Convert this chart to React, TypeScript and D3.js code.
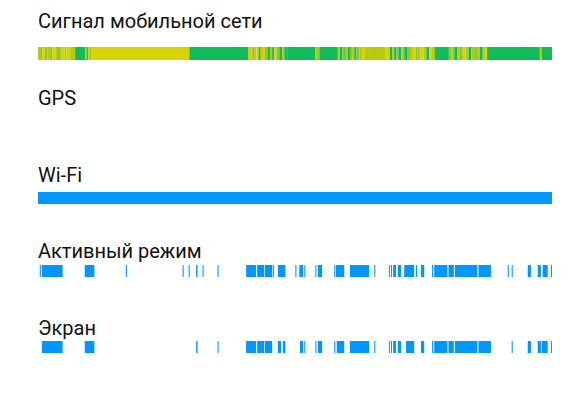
import React from 'react';
import * as d3 from 'd3';

// Timeline covers one day, in minutes
const DAY_MINUTES = 1440;

const rowLabels = ['Сигнал мобильной сети', 'GPS', 'Wi-Fi', 'Активный режим', 'Экран'];

// signal strength segments: [start, end, level] (0 weak .. 3 strong)
const signalSegments: [number, number, number][] = [
  [0, 6, 1], [6, 12, 2], [12, 20, 0], [20, 26, 2], [26, 34, 1], [34, 40, 2], [40, 50, 0],
  [50, 56, 1], [56, 64, 2], [64, 74, 0], [74, 80, 1], [80, 90, 0], [90, 104, 1],
  [104, 132, 3],
  [132, 136, 1], [136, 140, 3], [140, 144, 0], [144, 150, 2],
  [150, 424, 0],
  [424, 589, 3],
  [589, 594, 1], [594, 600, 0], [600, 606, 2], [606, 612, 1], [612, 618, 0], [618, 622, 3],
  [622, 630, 1], [630, 636, 0], [636, 644, 2], [644, 650, 3], [650, 656, 1], [656, 662, 3],
  [662, 668, 0], [668, 676, 2], [676, 684, 3], [684, 690, 1], [690, 698, 3],
  [698, 776, 3],
  [776, 782, 1], [782, 790, 2],
  [790, 840, 3],
  [840, 846, 1],
  [846, 852, 3], [852, 858, 2], [858, 862, 3], [862, 868, 1], [868, 874, 3], [874, 880, 2],
  [880, 886, 1], [886, 892, 3], [892, 900, 2], [900, 908, 1], [908, 916, 0], [916, 930, 1],
  [930, 972, 1],
  [972, 986, 0],
  [986, 992, 3], [992, 998, 1], [998, 1004, 3], [1004, 1010, 2], [1010, 1018, 3],
  [1018, 1026, 1], [1026, 1034, 3], [1034, 1042, 2],
  [1042, 1050, 1], [1050, 1058, 0], [1058, 1064, 2], [1064, 1072, 1], [1072, 1080, 0],
  [1080, 1088, 1], [1088, 1096, 3], [1096, 1104, 0], [1104, 1112, 1],
  [1112, 1151, 3],
  [1151, 1158, 2], [1158, 1166, 1], [1166, 1174, 3], [1174, 1182, 1], [1182, 1190, 2],
  [1190, 1198, 0], [1198, 1206, 1], [1206, 1214, 3], [1214, 1222, 1], [1222, 1230, 2],
  [1230, 1238, 1], [1238, 1246, 3], [1246, 1252, 1], [1252, 1258, 0],
  [1258, 1406, 3],
  [1406, 1412, 1],
  [1412, 1440, 3],
];

const gpsIntervals: [number, number][] = [];

const wifiIntervals: [number, number][] = [[0, 1440]];

const activeIntervals: [number, number][] = [
  [5, 8], [11, 69], [131, 158], [246, 249],
  [405, 408], [422, 425], [443, 447], [461, 464], [503, 506],
  [583, 611], [614, 634], [636, 656], [658, 661], [672, 693], [721, 724],
  [732, 743], [746, 749], [777, 780], [784, 796], [830, 833], [835, 858],
  [874, 928], [942, 945], [983, 985], [989, 991], [995, 1003], [1008, 1017],
  [1026, 1054], [1059, 1062], [1073, 1082], [1104, 1107],
  [1110, 1147], [1150, 1165], [1168, 1231], [1234, 1269],
  [1316, 1319], [1327, 1330], [1372, 1381], [1400, 1409], [1414, 1428], [1437, 1440],
];

const screenIntervals: [number, number][] = [
  [11, 69], [131, 158],
  [443, 447], [503, 506],
  [583, 611], [614, 634], [636, 656], [672, 681], [686, 693],
  [734, 743], [746, 749], [777, 780], [784, 796], [830, 833], [837, 858],
  [874, 928], [942, 945], [983, 985], [989, 991], [995, 1003], [1008, 1017],
  [1031, 1054], [1073, 1082], [1104, 1107],
  [1110, 1147], [1150, 1165], [1168, 1231], [1234, 1269],
  [1327, 1330], [1372, 1381], [1400, 1409], [1411, 1428], [1437, 1440],
];

const signalColors = ['#d7d400', '#b6cb0c', '#8ec52a', '#12bb5a'];
const BLUE = '#0096fb';

const WIDTH = 588;
const HEIGHT = 393;

// label baseline and bar top for each row
const rowLayout = [
  { baseline: 28, barY: 47, barH: 13 },
  { baseline: 105, barY: 123, barH: 12 },
  { baseline: 181.5, barY: 192, barH: 12 },
  { baseline: 258, barY: 265, barH: 12 },
  { baseline: 334.5, barY: 341, barH: 12 },
];

export default function App() {
  const x = d3.scaleLinear().domain([0, DAY_MINUTES]).range([38, 552]);
  const color = d3.scaleOrdinal<number, string>().domain([0, 1, 2, 3]).range(signalColors);

  const blueRows = [gpsIntervals, wifiIntervals, activeIntervals, screenIntervals];

  return (
    <div style={{ position: 'absolute', left: 0, top: 0 }}>
      <svg width={WIDTH} height={HEIGHT} style={{ display: 'block', background: '#fff' }}>
        {rowLabels.map((label, i) => (
          <text
            key={label}
            x={38}
            y={rowLayout[i].baseline}
            fontFamily="Roboto, 'Noto Sans', sans-serif"
            fontSize={20}
            fill="#111"
          >
            {label}
          </text>
        ))}

        <g>
          {signalSegments.map(([s, e, lvl], i) => (
            <rect
              key={i}
              x={x(s)}
              y={rowLayout[0].barY}
              width={x(e) - x(s)}
              height={rowLayout[0].barH}
              fill={color(lvl)}
            />
          ))}
        </g>

        {blueRows.map((intervals, r) => (
          <g key={r}>
            {intervals.map(([s, e], i) => (
              <rect
                key={i}
                x={x(s)}
                y={rowLayout[r + 1].barY}
                width={Math.max(1, x(e) - x(s))}
                height={rowLayout[r + 1].barH}
                fill={BLUE}
              />
            ))}
          </g>
        ))}
      </svg>
    </div>
  );
}
